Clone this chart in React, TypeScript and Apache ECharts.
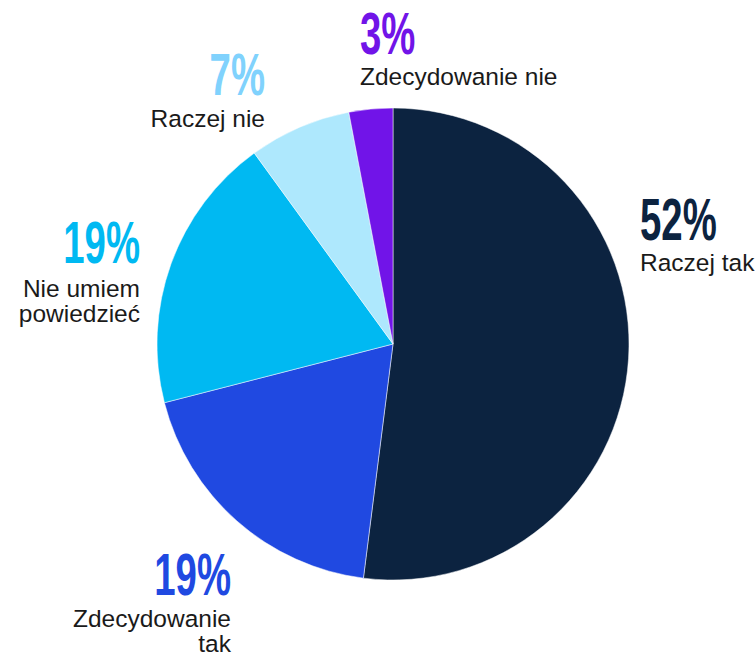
import React, { useEffect, useRef } from "react";
import * as echarts from "echarts";

const categories = ["Raczej tak", "Zdecydowanie\ntak", "Nie umiem\npowiedzieć", "Raczej nie", "Zdecydowanie nie"];
const values = [52, 19, 19, 7, 3];
const sliceColors = ["#0c2340", "#2049e1", "#00b9f2", "#aee8fd", "#7114e8"];
const percentColors = ["#0c2340", "#2049e1", "#00b9f2", "#80d2fd", "#7114e8"];

// label anchor: x, baseline of the percentage, baseline of the first name line, alignment
const labelAnchors: { x: number; pBase: number; nBase: number; align: "left" | "right" }[] = [
  { x: 640, pBase: 240, nBase: 271, align: "left" },
  { x: 231, pBase: 595, nBase: 627, align: "right" },
  { x: 140, pBase: 263, nBase: 297, align: "right" },
  { x: 265, pBase: 95, nBase: 127, align: "right" },
  { x: 360, pBase: 54, nBase: 85, align: "left" },
];

const P_SIZE = 59;
const N_SIZE = 24.5;
const N_LH = 25;

export default function App() {
  const ref = useRef<HTMLDivElement>(null);
  useEffect(() => {
    if (!ref.current) return;
    const chart = echarts.init(ref.current, null, { renderer: "svg" });
    const graphics: any[] = [];
    categories.forEach((name, i) => {
      const a = labelAnchors[i];
      graphics.push({
        type: "text",
        x: a.x,
        y: a.pBase - 0.8465 * P_SIZE,
        scaleX: 0.65,
        silent: true,
        style: {
          text: `${values[i]}%`,
          fontFamily: "Liberation Sans",
          fontWeight: "bold",
          fontSize: P_SIZE,
          lineHeight: P_SIZE,
          fill: percentColors[i],
          align: a.align,
          verticalAlign: "top",
        },
      });
      graphics.push({
        type: "text",
        x: a.x,
        y: a.nBase - ((N_LH - N_SIZE) / 2 + 0.8465 * N_SIZE),
        silent: true,
        style: {
          text: name,
          fontFamily: "Liberation Sans",
          fontSize: N_SIZE,
          lineHeight: N_LH,
          fill: "#1a1a1a",
          align: a.align,
          verticalAlign: "top",
        },
      });
    });
    chart.setOption({
      animation: false,
      graphic: graphics,
      series: [
        {
          type: "pie",
          center: [393, 344],
          radius: 236,
          startAngle: 90,
          clockwise: true,
          itemStyle: { borderColor: "#ffffff", borderWidth: 0.5 },
          label: { show: false },
          labelLine: { show: false },
          emphasis: { disabled: true },
          data: categories.map((name, i) => ({
            name,
            value: values[i],
            itemStyle: { color: sliceColors[i] },
          })),
        },
      ],
    });
    return () => chart.dispose();
  }, []);
  return (
    <div
      ref={ref}
      style={{ position: "fixed", left: 0, top: 0, width: 756, height: 656, background: "#ffffff" }}
    />
  );
}
